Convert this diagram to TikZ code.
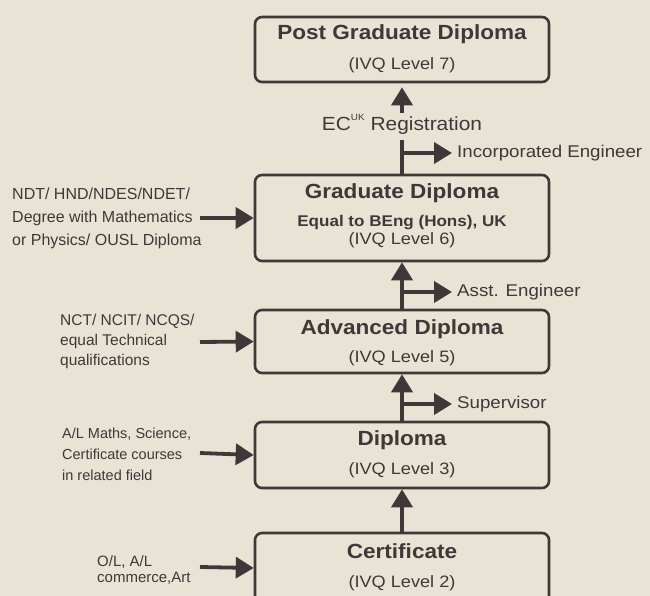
\documentclass[tikz,border=0pt]{standalone}
\usepackage{fontspec}
\setmainfont{Liberation Sans}[FakeStretch=1.1]
\newfontfamily\lblfont{Liberation Sans}
\usetikzlibrary{arrows.meta}
\definecolor{paper}{RGB}{233,227,213}
\definecolor{ink}{RGB}{62,56,56}
\begin{document}
\begin{tikzpicture}[x=1pt,y=-1pt,
  box/.style={draw=ink,line width=2.6pt,rounded corners=7pt,minimum width=294pt,inner sep=0pt},
  ttl/.style={anchor=base,text=ink,font=\bfseries\fontsize{20.5}{24}\selectfont,inner sep=0pt},
  eqt/.style={anchor=base,text=ink,font=\bfseries\fontsize{15.5}{18}\selectfont,inner sep=0pt},
  sub/.style={anchor=base,text=ink,font=\fontsize{16.5}{20}\selectfont,inner sep=0pt},
  arr/.style={draw=ink,line width=3.8pt,-{Triangle[width=21pt,length=18pt]}},
  lnk/.style={draw=ink,line width=3.8pt},
  rlab/.style={anchor=west,text=ink,font=\fontsize{17}{20}\selectfont,inner sep=5pt},
  llab/.style={anchor=west,text=ink,align=left,inner sep=0pt}]
\useasboundingbox (0,0) rectangle (650,596);
\clip (0,0) rectangle (650,596);
\fill[paper] (0,0) rectangle (650,596);

% boxes
\node[box,minimum height=65pt] (pgd) at (402,49.5) {};
\node[box,minimum height=86pt] (grad) at (402,218) {};
\node[box,minimum height=63pt] (adv) at (402,341.5) {};
\node[box,minimum height=66pt] (dip) at (402,455) {};
\node[box,minimum height=70pt] (cert) at (402,568) {};

% box texts
\node[ttl] (pgdT) at (402,40) {Post Graduate Diploma};
\node[sub] (pgdS) at (402,70) {(IVQ Level 7)};
\node[ttl] (gradT) at (402,199) {Graduate Diploma};
\node[eqt] (gradE) at (402,226) {Equal to BEng (Hons), UK};
\node[sub] (gradS) at (402,244) {(IVQ Level 6)};
\node[ttl] (advT) at (402,334) {Advanced Diploma};
\node[sub] (advS) at (402,362) {(IVQ Level 5)};
\node[ttl] (dipT) at (402,445) {Diploma};
\node[sub] (dipS) at (402,474) {(IVQ Level 3)};
\node[ttl] (certT) at (402,558) {Certificate};
\node[sub] (certS) at (402,587) {(IVQ Level 2)};

% EC registration
\node[text=ink,font=\fontsize{19}{22}\selectfont,inner sep=1pt] (ec) at (402,124)
  {EC\raisebox{1.0ex}{\fontsize{9}{9}\selectfont UK} Registration};
\draw[arr,shorten >=4pt] (ec.north) -- (pgd.south);

% vertical progression
\coordinate (top6) at (402,140);
\draw[lnk] (grad.north) -- (top6);
\draw[arr] (adv.north) -- (grad.south);
\draw[arr] (dip.north) -- (adv.south);
\draw[arr] (cert.north) -- (dip.south);

% right branches
\node[rlab] (inc) at (452,153) {Incorporated Engineer};
\node[rlab] (asst) at (452,292) {Asst. Engineer};
\node[rlab] (supv) at (452,404) {Supervisor};
\coordinate (b6) at (402,153);
\coordinate (b5) at (402,292);
\coordinate (b3) at (402,404);
\draw[arr] (b6) -- (inc.west);
\draw[arr] (b5) -- (asst.west);
\draw[arr] (b3) -- (supv.west);

% left entry labels
\node[llab,font=\lblfont\fontsize{16}{23}\selectfont] (gl) at (12,218)
  {NDT/ HND/NDES/NDET/\\Degree with Mathematics\\or Physics/ OUSL Diploma};
\node[llab,font=\lblfont\fontsize{15.5}{20}\selectfont] (al) at (60,341)
  {NCT/ NCIT/ NCQS/\\equal Technical\\qualifications};
\node[llab,font=\lblfont\fontsize{14.5}{21}\selectfont] (dl) at (62,454)
  {A/L Maths, Science,\\Certificate courses\\in related field};
\node[llab,font=\lblfont\fontsize{15}{16}\selectfont] (cl) at (97,570)
  {O/L, A/L\\commerce,Art};

\coordinate (gs) at (200,218);
\coordinate (as) at (200,342);
\coordinate (ds) at (200,453);
\coordinate (cs) at (200,567);
\draw[arr] (gs) -- (grad.west);
\draw[arr] (as) -- (adv.west);
\draw[arr] (ds) -- (dip.west);
\draw[arr] (cs) -- (cert.west);
\end{tikzpicture}
\end{document}
